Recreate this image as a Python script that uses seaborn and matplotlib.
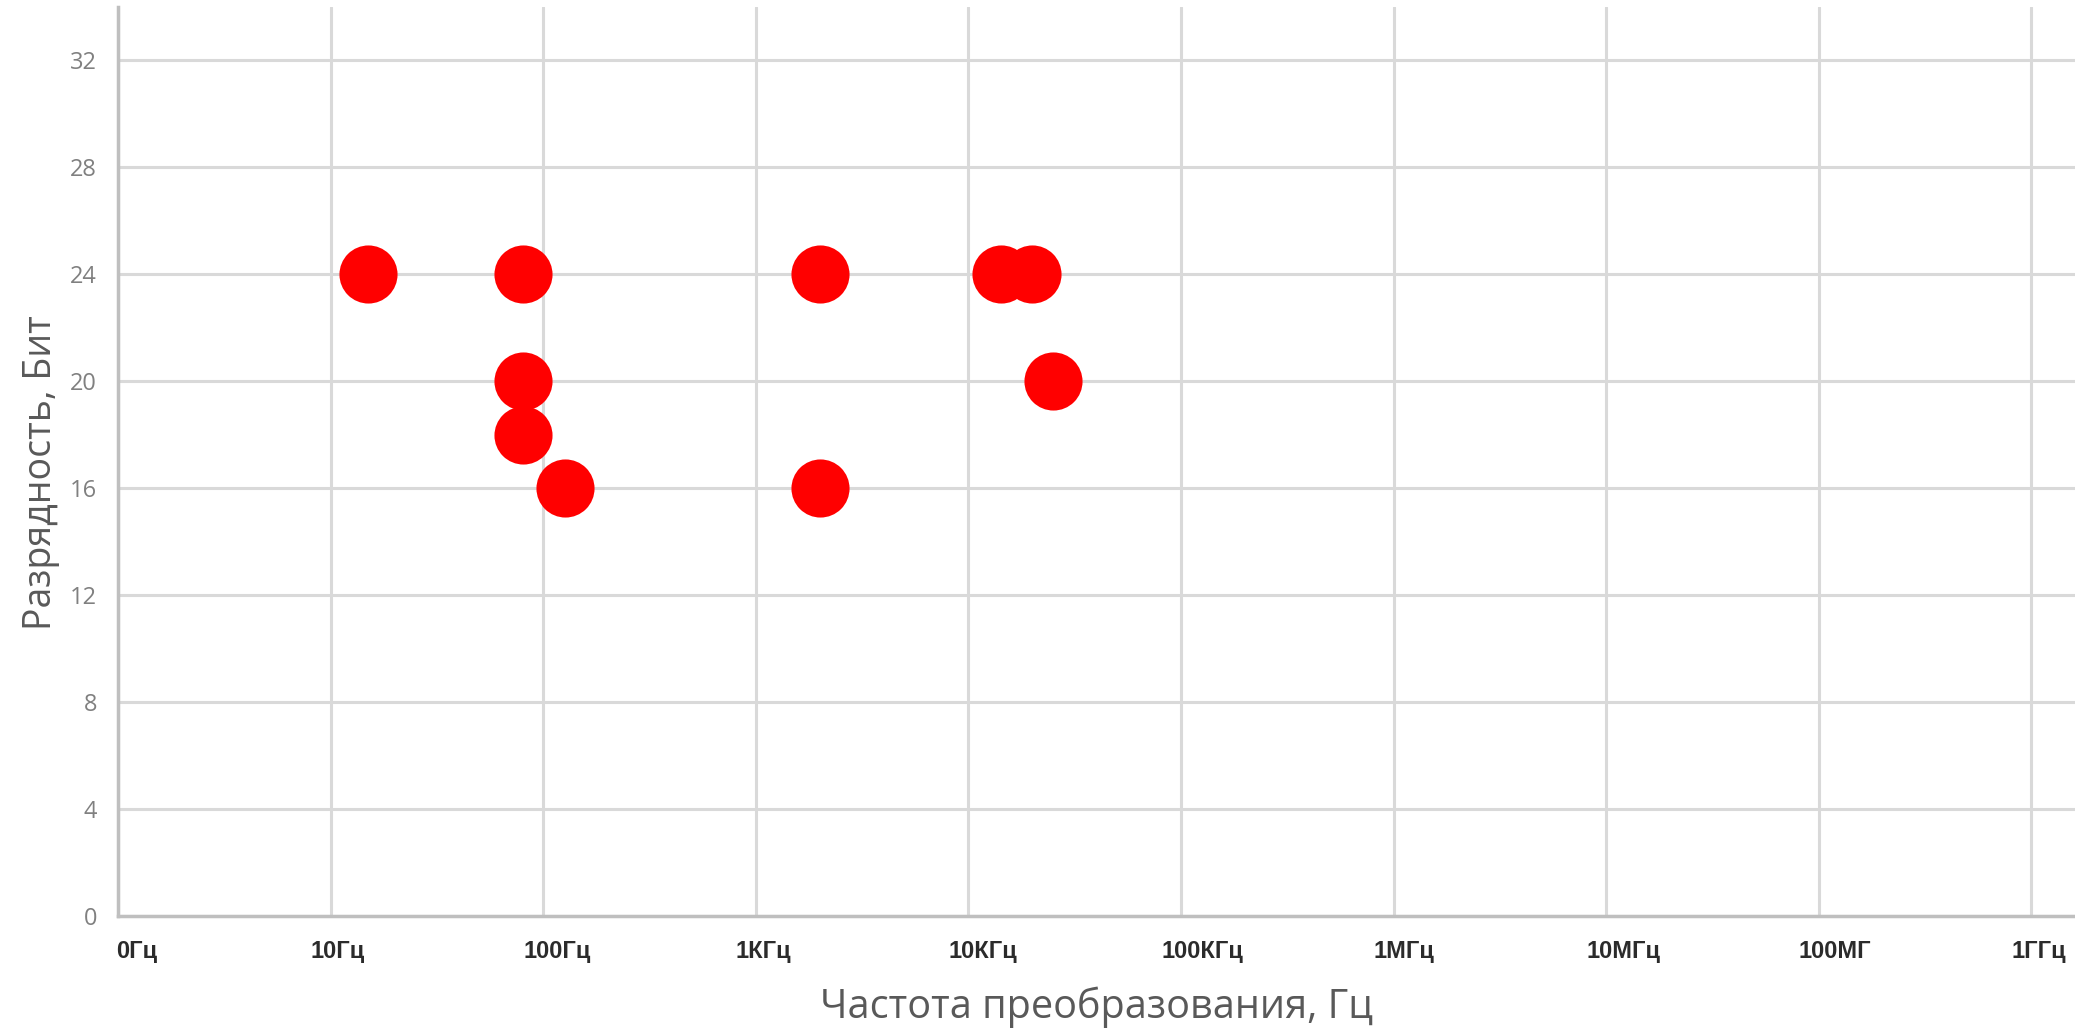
import matplotlib
matplotlib.use("Agg")
import matplotlib.pyplot as plt
import matplotlib.transforms as mtransforms
import seaborn as sns
import pandas as pd

# Data
freq_hz = [15, 80, 80, 80, 127, 2000, 2000, 14300, 20000, 25000]
bits = [24, 24, 20, 18, 16, 24, 16, 24, 24, 20]
xtick_values = [1, 10, 100, 1e3, 1e4, 1e5, 1e6, 1e7, 1e8, 1e9]
xtick_labels = ["0Гц", "10Гц", "100Гц", "1КГц", "10КГц", "100КГц", "1МГц", "10МГц", "100МГ", "1ГГц"]
ytick_values = [0, 4, 8, 12, 16, 20, 24, 28, 32]

df = pd.DataFrame({"freq": freq_hz, "bits": bits})

sns.set_theme(style="white")
plt.rcParams["font.family"] = ["Open Sans", "DejaVu Sans"]

W, H = 2075, 1029
fig = plt.figure(figsize=(W / 100, H / 100), dpi=100)
left_px, right_px, top_px, bottom_px = 118, 2075, 6.5, 916
ax_h = bottom_px - top_px
ax_w = right_px - left_px
ax = fig.add_axes([left_px / W, 1 - bottom_px / H, ax_w / W, ax_h / H])

ax.set_xscale("log")
ax.set_xlim(1, 10 ** 9.205)
ax.set_ylim(0, 34)

grid_c = "#d9d9d9"
ax.set_xticks(xtick_values)
ax.set_yticks(ytick_values)
ax.minorticks_off()
ax.grid(True, which="major", color=grid_c, linewidth=2.2)
ax.set_axisbelow(True)

sns.scatterplot(data=df, x="freq", y="bits", ax=ax, color="#ff0000", s=1750,
                linewidth=0, zorder=3, legend=False)

for side in ["top", "right"]:
    ax.spines[side].set_visible(False)
for side in ["left", "bottom"]:
    ax.spines[side].set_color("#bfbfbf")
    ax.spines[side].set_linewidth(2.5)

ax.tick_params(axis="both", length=0)
ax.set_xticklabels(xtick_labels, fontsize=17, fontweight="bold", color="#2b2b2b",
                   family=["Liberation Sans", "DejaVu Sans"])
ax.tick_params(axis="x", pad=17)
for i, lab in enumerate(ax.get_xticklabels()):
    shift_px = -2 if i == 0 else -20
    offset = mtransforms.ScaledTranslation(shift_px / 100, 0, fig.dpi_scale_trans)
    lab.set_horizontalalignment("left")
    lab.set_transform(lab.get_transform() + offset)

ax.set_yticklabels([str(v) for v in ytick_values], fontsize=17, color="#808080")
ax.tick_params(axis="y", pad=15)

ax.set_xlabel("Частота преобразования, Гц", fontsize=28.5, color="#595959")
ax.set_ylabel("Разрядность, Бит", fontsize=27, color="#595959")
ax.xaxis.set_label_coords(0.5, -(987 - bottom_px) / ax_h)
ax.yaxis.set_label_coords(-(118 - 60) / ax_w, (bottom_px - 473) / ax_h)

fig.savefig("out.png", dpi=100, facecolor="white")
